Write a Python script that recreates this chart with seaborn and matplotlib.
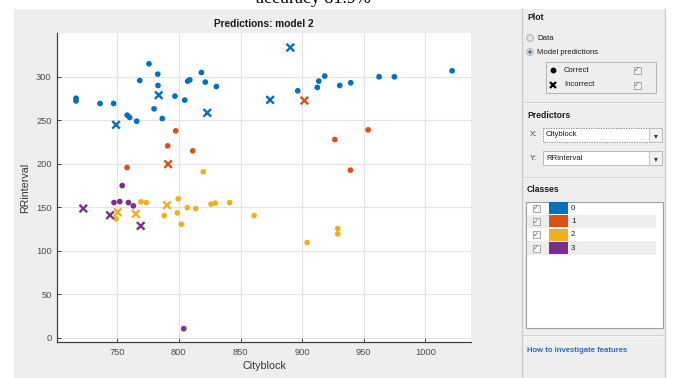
import numpy as np
import pandas as pd
import matplotlib
matplotlib.use("Agg")
import matplotlib.pyplot as plt
from matplotlib.patches import Rectangle, Circle
import seaborn as sns

# ---------------- data ----------------
classes = ["0", "1", "2", "3"]
class_colors = ["#0072BD", "#D95319", "#EDB120", "#7E2F8E"]

c0_correct_x = [716.5, 716.5, 736, 747, 758, 760, 765.7, 768.2, 775.7, 782.8, 783, 779.8, 786.5,
                796.8, 804.7, 807.1, 808.8, 818.2, 821.4, 830.4, 896.4, 912.3, 913.5, 918.3,
                930.5, 939.4, 962.4, 974.8, 1021.7]
c0_correct_y = [275, 272, 269, 269, 255.6, 253, 248.7, 295.4, 314.6, 302.7, 289.7, 262.9, 251.7,
                277.5, 272.9, 294.7, 296.2, 304.6, 293.6, 288.5, 283.6, 287.4, 294.7, 300.5,
                289.7, 292.8, 299.7, 299.7, 306.6]
c0_wrong_x = [749, 783.6, 823, 874, 890.4]
c0_wrong_y = [244.5, 278.6, 258.3, 273.2, 333.3]

c1_correct_x = [797.4, 790.9, 811.2, 757.9, 926.5, 953.5, 939.1]
c1_correct_y = [237.6, 220.3, 214.6, 195.4, 227.6, 238.7, 192.4]
c1_wrong_x = [901.8, 791.2]
c1_wrong_y = [272.4, 199.3]

c2_correct_x = [819.8, 749, 769.2, 773.5, 788.1, 798.7, 799.5, 802, 806.8, 813.6, 826, 829.5,
                841.2, 861, 904, 928.9, 928.9]
c2_correct_y = [190.5, 136.4, 156, 155.2, 140.2, 143.3, 159.4, 130.3, 149.4, 148.3, 153.3, 154.5,
                155.2, 140.2, 109.2, 125.3, 119.2]
c2_wrong_x = [750.3, 765, 790.3]
c2_wrong_y = [144.1, 142.2, 152.2]

c3_correct_x = [754, 747.3, 752, 759, 763, 803.9]
c3_correct_y = [174.7, 155.2, 156.3, 155.2, 151.4, 10.3]
c3_wrong_x = [722.4, 744.1, 769]
c3_wrong_y = [148.3, 140.7, 128.4]

x_ticks = [750, 800, 850, 900, 950, 1000]
y_ticks = [0, 50, 100, 150, 200, 250, 300]

rows = []
for cls, cx, cy, wx, wy in [
    ("0", c0_correct_x, c0_correct_y, c0_wrong_x, c0_wrong_y),
    ("1", c1_correct_x, c1_correct_y, c1_wrong_x, c1_wrong_y),
    ("2", c2_correct_x, c2_correct_y, c2_wrong_x, c2_wrong_y),
    ("3", c3_correct_x, c3_correct_y, c3_wrong_x, c3_wrong_y),
]:
    for x, y in zip(cx, cy):
        rows.append((x, y, cls, "Correct"))
    for x, y in zip(wx, wy):
        rows.append((x, y, cls, "Incorrect"))
df = pd.DataFrame(rows, columns=["Cityblock", "RRinterval", "Class", "Result"])

# ---------------- figure ----------------
sns.set_theme(style="white")
plt.rcParams["font.family"] = ["Liberation Sans", "DejaVu Sans"]

W, H = 673, 378
fig = plt.figure(figsize=(W / 100, H / 100), dpi=100)
fig.patch.set_facecolor("white")

bg = fig.add_axes([0, 0, 1, 1])
bg.set_xlim(0, W)
bg.set_ylim(H, 0)
bg.axis("off")

panel_gray = "#EEEEEE"
bg.add_patch(Rectangle((14, 9), 665 - 14, H - 9, facecolor=panel_gray, edgecolor="none"))
# right panel borders
bg.plot([522, 522], [9, H], color="#C9C9C9", lw=0.9)
bg.plot([665, 665], [9, H], color="#C9C9C9", lw=0.9)

txt = "#1A1A1A"
fs_small = 5.6
fs_head = 6.2
bg.text(527, 17, "Plot", fontsize=fs_head, fontweight="bold", color=txt, va="center")
# radio buttons
bg.add_patch(Circle((530, 38), 3.3, facecolor="#E4E4E4", edgecolor="#A8A8A8", lw=0.6))
bg.text(537, 38, "Data", fontsize=fs_small, color=txt, va="center")
bg.add_patch(Circle((530, 52), 3.3, facecolor="#E4E4E4", edgecolor="#A8A8A8", lw=0.6))
bg.add_patch(Circle((530, 52), 1.7, facecolor="#3A6EA5", edgecolor="none"))
bg.text(537, 52, "Model predictions", fontsize=fs_small, color=txt, va="center")
# marker legend box
bg.add_patch(Rectangle((546, 62), 110, 31, facecolor=panel_gray, edgecolor="#B4B4B4", lw=0.7))
bg.plot([553], [70], marker="o", ms=3.2, color="black", ls="none")
bg.plot([553], [85], marker="x", ms=4.5, mew=1.6, color="black", ls="none")
bg.text(564, 70, "Correct", fontsize=fs_small, color=txt, va="center")
bg.text(564, 85, "Incorrect", fontsize=fs_small, color=txt, va="center")


def checkbox(x, y):
    bg.add_patch(Rectangle((x - 3.5, y - 3.5), 7, 7, facecolor="#F4F4F4", edgecolor="#9A9A9A", lw=0.6))
    bg.text(x, y + 0.3, "\u2713", fontsize=5.2, color="#4A6FA5", ha="center", va="center",
            family="DejaVu Sans")


checkbox(637, 70)
checkbox(637, 85)

# separators
for ys in [102, 177, 335]:
    bg.plot([523, 663], [ys, ys], color="#D4D4D4", lw=0.8)
    bg.plot([523, 663], [ys + 1, ys + 1], color="#FAFAFA", lw=0.5)

bg.text(527, 116, "Predictors", fontsize=fs_head, fontweight="bold", color=txt, va="center")
bg.text(530, 135, "X:", fontsize=fs_small, color="#444444", va="center")
bg.add_patch(Rectangle((543, 128), 119, 14, facecolor="white", edgecolor="#7A7A7A", lw=0.6, ls=(0, (1.5, 1.5))))
bg.add_patch(Rectangle((649, 128), 13, 14, facecolor="#F2F2F2", edgecolor="#B0B0B0", lw=0.5))
bg.text(655.5, 135.5, "\u25BE", fontsize=5.5, color="#333333", ha="center", va="center", family="DejaVu Sans")
bg.text(546, 135, "Cityblock", fontsize=fs_small, color=txt, va="center")

bg.text(530, 158, "Y:", fontsize=fs_small, color="#444444", va="center")
bg.add_patch(Rectangle((543, 151), 119, 14, facecolor="white", edgecolor="#B0B0B0", lw=0.6))
bg.add_patch(Rectangle((649, 151), 13, 14, facecolor="#F2F2F2", edgecolor="#B0B0B0", lw=0.5))
bg.text(655.5, 158.5, "\u25BE", fontsize=5.5, color="#333333", ha="center", va="center", family="DejaVu Sans")
bg.text(546, 158, "RRinterval", fontsize=fs_small, color=txt, va="center")

bg.text(527, 190, "Classes", fontsize=fs_head, fontweight="bold", color=txt, va="center")
bg.add_patch(Rectangle((526, 201.5), 137, 126.5, facecolor="white", edgecolor="#9E9E9E", lw=0.8))
row_h = 13.3
for i, (cls, col) in enumerate(zip(classes, class_colors)):
    y0 = 201.5 + i * row_h
    if i % 2 == 1:
        bg.add_patch(Rectangle((527, y0), 129, row_h, facecolor="#EDEDED", edgecolor="none"))
    yc = y0 + row_h / 2
    checkbox(536, yc)
    bg.add_patch(Rectangle((548.7, y0 + 0.6), 19.3, row_h - 1.4, facecolor=col, edgecolor="none"))
    bg.text(571, yc, cls, fontsize=fs_small, color=txt, va="center")

bg.text(527, 351, "How to investigate features", fontsize=fs_small, fontweight="bold",
        color="#2E6DB4", va="center")

# ---------------- main axes ----------------
ax_l, ax_r, ax_t, ax_b = 57.3, 471, 33, 342
ax = fig.add_axes([ax_l / W, 1 - ax_b / H, (ax_r - ax_l) / W, (ax_b - ax_t) / H])
ax.set_facecolor("white")
palette = dict(zip(classes, class_colors))

ax.set_axisbelow(True)
ax.grid(True, color="#E3E3E3", lw=0.8)

sns.scatterplot(data=df[df.Result == "Correct"], x="Cityblock", y="RRinterval", hue="Class",
                hue_order=classes, palette=palette, marker="o", s=17, linewidth=0,
                legend=False, ax=ax, zorder=3)
sns.scatterplot(data=df[df.Result == "Incorrect"], x="Cityblock", y="RRinterval", hue="Class",
                hue_order=classes, palette=palette, marker="x", s=30, linewidth=1.7,
                legend=False, ax=ax, zorder=3)

ax.set_xlim(701.3, 1037)
ax.set_ylim(-5, 350)
ax.set_xticks(x_ticks)
ax.set_yticks(y_ticks)
for s in ["top", "right"]:
    ax.spines[s].set_visible(False)
for s in ["left", "bottom"]:
    ax.spines[s].set_color("#404040")
    ax.spines[s].set_linewidth(0.9)
ax.tick_params(direction="in", length=3, width=0.7, color="#404040", labelsize=6.7,
               labelcolor="#4D4D4D", pad=4, left=True, bottom=True)
ax.set_xlabel("Cityblock", fontsize=7.7, color="#333333", labelpad=3)
ax.set_ylabel("RRinterval", fontsize=7.7, color="#333333", labelpad=4)
ax.set_title("Predictions: model 2", fontsize=7.3, fontweight="bold", color="#1A1A1A", pad=4.5)

# clipped heading text at the very top (cut off in the reference too)
fig.text(256 / W, 1 - 3.0 / H, "accuracy 81.9%", fontsize=13, family=["Liberation Serif", "DejaVu Serif"],
         color="black", ha="left", va="baseline")

fig.savefig("out.png", dpi=100, facecolor="white")
